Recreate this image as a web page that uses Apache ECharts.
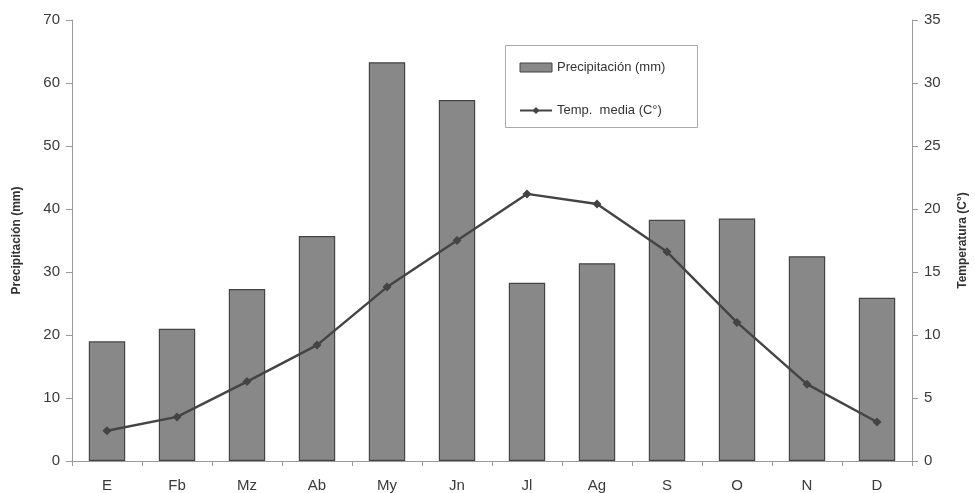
<!DOCTYPE html>
<html><head><meta charset="utf-8">
<script src="https://cdn.jsdelivr.net/npm/echarts@6/dist/echarts.min.js"></script>
<style>html,body{margin:0;padding:0;background:#fff}#c{width:975px;height:493px}</style>
</head><body><div id="c"></div>
<script>
const categories = ['E','Fb','Mz','Ab','My','Jn','Jl','Ag','S','O','N','D'];
const precipitacion = [19.0, 21.0, 27.3, 35.7, 63.3, 57.3, 28.3, 31.4, 38.3, 38.5, 32.5, 25.9];
const temperatura = [2.4, 3.5, 6.3, 9.2, 13.8, 17.5, 21.2, 20.4, 16.6, 11.0, 6.1, 3.1];
const leftTicks = [0,10,20,30,40,50,60,70];
const rightTicks = [0,5,10,15,20,25,30,35];

const chart = echarts.init(document.getElementById('c'));
const axisCol = '#9a9a9a';
const lab = {color:'#3a3a3a', fontSize:15, fontFamily:'Liberation Sans, Arial'};
chart.setOption({
  animation:false,
  backgroundColor:'#fff',
  grid:{left:72, right:63, top:20, bottom:32, outerBoundsMode:'none', containLabel:false},
  graphic:[{type:'rect', left:505, top:45, shape:{width:192, height:82},
    style:{fill:'#fff', stroke:'#aaa', lineWidth:1}, z:0}],
  legend:{
    orient:'vertical', left:507, top:47, z:10,
    padding:[14,10,10,12], itemGap:30,
    itemWidth:32, itemHeight:9,
    textStyle:{color:'#333', fontSize:13, fontFamily:'Liberation Sans, Arial'},
    data:[
      {name:'Precipitación (mm)', icon:'rect', itemStyle:{color:'#888', borderColor:'#444', borderWidth:1}},
      {name:'Temp.  media (C°)'}
    ]
  },
  xAxis:{
    type:'category', data:categories, boundaryGap:true,
    axisLine:{lineStyle:{color:axisCol}},
    axisTick:{show:true, length:5, lineStyle:{color:axisCol}},
    axisLabel:Object.assign({margin:17}, lab)
  },
  yAxis:[
    {type:'value', min:0, max:70, interval:10, position:'left',
     name:'Precipitación (mm)', nameLocation:'middle', nameGap:49, nameRotate:90,
     nameTextStyle:{color:'#333', fontSize:12, fontWeight:'bold', fontFamily:'Liberation Sans, Arial'},
     axisLine:{show:true, lineStyle:{color:axisCol}},
     axisTick:{show:true, length:6, lineStyle:{color:axisCol}},
     splitLine:{show:false},
     axisLabel:Object.assign({margin:12}, lab)},
    {type:'value', min:0, max:35, interval:5, position:'right',
     name:'Temperatura (C°)', nameLocation:'middle', nameGap:45, nameRotate:90,
     nameTextStyle:{color:'#333', fontSize:12, fontWeight:'bold', fontFamily:'Liberation Sans, Arial'},
     axisLine:{show:true, lineStyle:{color:axisCol}},
     axisTick:{show:true, length:6, lineStyle:{color:axisCol}},
     splitLine:{show:false},
     axisLabel:Object.assign({margin:12}, lab)}
  ],
  series:[
    {name:'Precipitación (mm)', type:'bar', yAxisIndex:0, data:precipitacion,
     barWidth:'52%',
     itemStyle:{color:'#888', borderColor:'#444', borderWidth:1.2}},
    {name:'Temp.  media (C°)', type:'line', yAxisIndex:1, data:temperatura,
     smooth:false, symbol:'diamond', symbolSize:9,
     lineStyle:{color:'#444', width:2.4},
     itemStyle:{color:'#444'}}
  ]
});
</script></body></html>
